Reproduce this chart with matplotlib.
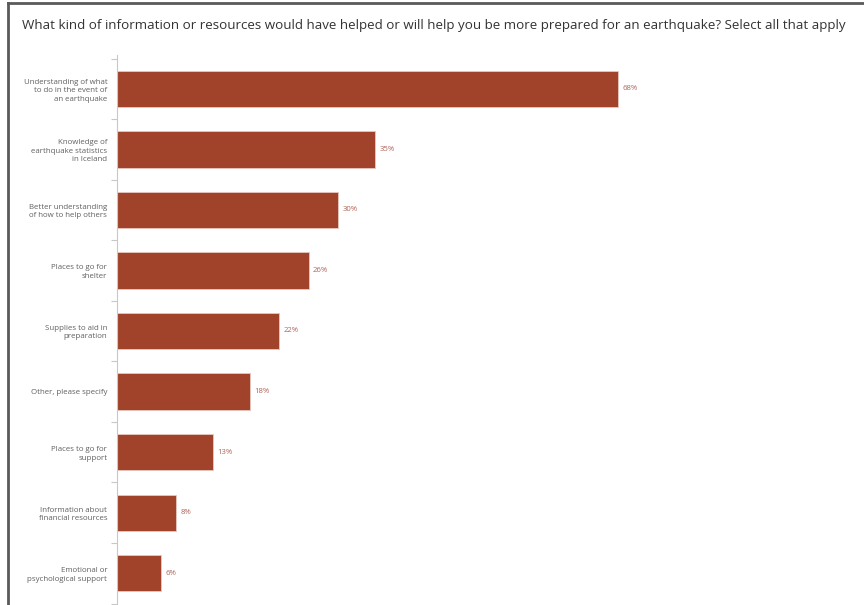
import numpy as np
import matplotlib.pyplot as plt
from matplotlib.lines import Line2D

categories = [
    "Understanding of what\nto do in the event of\nan earthquake",
    "Knowledge of\nearthquake statistics\nin Iceland",
    "Better understanding\nof how to help others",
    "Places to go for\nshelter",
    "Supplies to aid in\npreparation",
    "Other, please specify",
    "Places to go for\nsupport",
    "Information about\nfinancial resources",
    "Emotional or\npsychological support",
]
percent = [68, 35, 30, 26, 22, 18, 13, 8, 6]

title = ("What kind of information or resources would have helped or will help "
         "you be more prepared for an earthquake? Select all that apply")

W, H = 864, 605
fig = plt.figure(figsize=(W / 100, H / 100), dpi=100)

# outer frame: top and left border only
fig.add_artist(Line2D([8 / W, 1], [1 - 3 / H, 1 - 3 / H], color="#5a5a5a", lw=2.0))
fig.add_artist(Line2D([8 / W, 8 / W], [0, 1 - 3 / H], color="#5a5a5a", lw=2.0))

fig.text(22 / W, 1 - 25 / H, title, fontsize=9.6, color="#333333",
         family="Open Sans", va="center", ha="left")

ax = fig.add_axes([117 / W, 1 - 603.5 / H, 737 / W, 545 / H])
y = np.arange(len(categories))
bars = ax.barh(y, percent, height=0.6, color="#A0432A", edgecolor="#E8C8C0",
               linewidth=0.6)

for b, v in zip(bars, percent):
    ax.text(b.get_width() + 0.6, b.get_y() + b.get_height() / 2, f"{v}%",
            va="center", ha="left", fontsize=5.6, color="#B06458",
            family="Open Sans")

ax.set_xlim(0, 100)
ax.set_ylim(len(categories) - 0.5, -0.5)
ax.set_xticks([])
ax.set_yticks(y)
ax.set_yticklabels(categories, fontsize=5.7, color="#606060", family="Open Sans",
                   linespacing=1.3)
ax.tick_params(axis="y", length=0, pad=7)
ax.set_yticks(np.arange(-0.5, len(categories)), minor=True)
ax.tick_params(axis="y", which="minor", length=4, color="#C8C8C8", width=0.8)

for s in ["top", "right", "bottom"]:
    ax.spines[s].set_visible(False)
ax.spines["left"].set_color("#C8C8C8")
ax.spines["left"].set_linewidth(0.8)
ax.spines["left"].set_bounds(-0.55, len(categories) - 0.45)

fig.savefig("out.png", dpi=100)
